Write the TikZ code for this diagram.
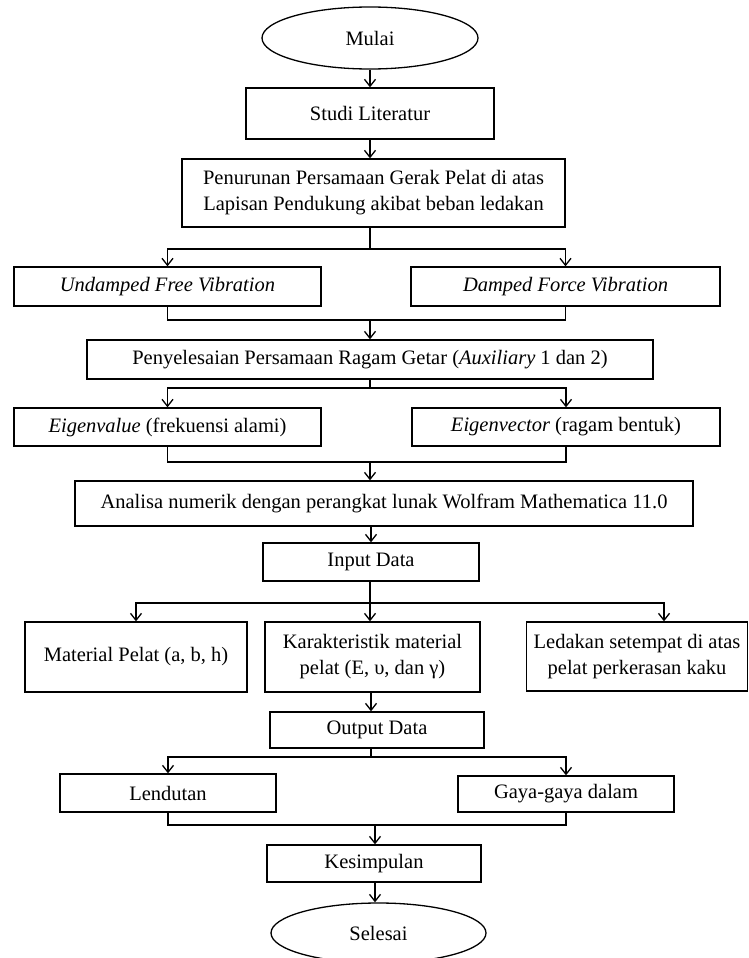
\documentclass[tikz,border=0pt]{standalone}
\usepackage{fontspec}
\setmainfont{Liberation Serif}
\usetikzlibrary{shapes.geometric,arrows.meta}
\begin{document}
\begin{tikzpicture}[x=1pt,y=-1pt,
  every node/.style={font=\fontsize{20.5}{26}\selectfont, align=center, inner sep=0pt},
  box/.style={draw, line width=1.3pt, rectangle},
  term/.style={draw, line width=1.3pt, ellipse},
  ln/.style={line width=1.3pt},
  arr/.style={line width=1.3pt, -{Straight Barb[length=7pt,width=11pt]}}]
\useasboundingbox (0,0) rectangle (749,958);
\node[term, minimum width=216pt, minimum height=62pt] (mulai) at (370,38) {Mulai};
\node[box, minimum width=248pt, minimum height=51pt] (studi) at (370,113.5) {Studi Literatur};
\node[box, minimum width=383pt, minimum height=68pt] (penurunan) at (373.5,193) {Penurunan Persamaan Gerak Pelat di atas\\Lapisan Pendukung akibat beban ledakan};
\node[box, minimum width=307pt, minimum height=39pt] (undamped) at (167.5,286.5) {\textit{Undamped Free Vibration}};
\node[box, minimum width=309pt, minimum height=39pt] (damped) at (565.5,286.5) {\textit{Damped Force Vibration}};
\node[box, minimum width=566pt, minimum height=39pt] (penyelesaian) at (370,359.5) {Penyelesaian Persamaan Ragam Getar (\textit{Auxiliary} 1 dan 2)};
\node[box, minimum width=307pt, minimum height=38pt] (eigval) at (167.5,427) {\textit{Eigenvalue} (frekuensi alami)};
\node[box, minimum width=308pt, minimum height=38pt] (eigvec) at (566,427) {\textit{Eigenvector} (ragam bentuk)};
\node[box, minimum width=618pt, minimum height=45pt] (analisa) at (384,503.5) {Analisa numerik dengan perangkat lunak Wolfram Mathematica 11.0};
\node[box, minimum width=216pt, minimum height=38pt] (input) at (371,562) {Input Data};
\node[box, minimum width=222pt, minimum height=70pt] (material) at (136,657) {Material Pelat (a, b, h)};
\node[box, minimum width=215pt, minimum height=70pt] (karakter) at (372.5,657) {Karakteristik material\\pelat (E, υ, dan γ)};
\node[box, minimum width=221pt, minimum height=69pt] (ledakan) at (637,656.5) {Ledakan setempat di atas\\pelat perkerasan kaku};
\node[box, minimum width=214pt, minimum height=36pt] (output) at (377,730) {Output Data};
\node[box, minimum width=216pt, minimum height=38pt] (lendutan) at (168,793) {Lendutan};
\node[box, minimum width=216pt, minimum height=36pt] (gaya) at (566,794) {Gaya-gaya dalam};
\node[box, minimum width=214pt, minimum height=37pt] (kesimpulan) at (374,863.5) {Kesimpulan};
\node[term, minimum width=215pt, minimum height=60pt] (selesai) at (378.5,933) {Selesai};
\coordinate (j1) at (370,249);
\coordinate (m1) at (370,320);
\coordinate (j2) at (370,388);
\coordinate (m2) at (370,462);
\coordinate (j3) at (370,603);
\coordinate (j4) at (371,757);
\coordinate (m3) at (375,825);
\draw[arr] (mulai.south) -- (mulai.south |- studi.north);
\draw[arr] (studi.south) -- (studi.south |- penurunan.north);
\draw[ln] (penurunan.south -| j1) -- (j1);
\draw[arr] (j1) -| (undamped.north);
\draw[arr] (j1) -| (damped.north);
\draw[ln] (undamped.south) |- (m1) -| (damped.south);
\draw[arr] (m1) -- (m1 |- penyelesaian.north);
\draw[ln] (penyelesaian.south -| j2) -- (j2);
\draw[arr] (j2) -| (eigval.north);
\draw[arr] (j2) -| (eigvec.north);
\draw[ln] (eigval.south) |- (m2) -| (eigvec.south);
\draw[arr] (m2) -- (m2 |- analisa.north);
\draw[arr] (analisa.south -| input.north) -- (input.north);
\draw[ln] (input.south -| j3) -- (j3);
\draw[arr] (j3) -| (material.north);
\draw[arr] (j3) -- (j3 |- karakter.north);
\draw[arr] (j3) -| ([xshift=27pt]ledakan.north);
\draw[arr] (karakter.south -| j4) -- (j4 |- output.north);
\draw[ln] (output.south -| j4) -- (j4);
\draw[arr] (j4) -| (lendutan.north);
\draw[arr] (j4) -| (gaya.north);
\draw[ln] (lendutan.south) |- (m3) -| (gaya.south);
\draw[arr] (m3) -- (m3 |- kesimpulan.north);
\draw[arr] (kesimpulan.south -| m3) -- (m3 |- selesai.north);
\end{tikzpicture}
\end{document}
